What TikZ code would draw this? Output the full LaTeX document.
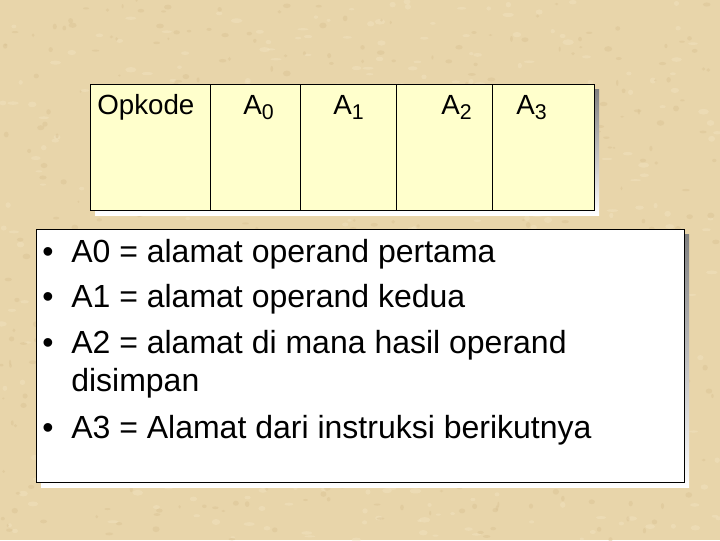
\documentclass[tikz,border=0pt]{standalone}
\usepackage{fontspec}
\setmainfont{Liberation Sans}
\definecolor{parchment}{HTML}{E8D5AA}
\definecolor{fleck}{HTML}{F2E4C2}
\definecolor{speck}{HTML}{D9C293}
\definecolor{memo}{HTML}{FFFFCC}
\definecolor{shade}{HTML}{A49C8A}
\newcommand{\sbs}[1]{\raisebox{-0.4ex}{\fontsize{16}{16}\selectfont #1}}
\begin{document}
\begin{tikzpicture}[x=0.75pt,y=-0.75pt,
  lbl/.style={anchor=base west,inner sep=0pt,font=\fontsize{20.8}{25}\selectfont},
  item/.style={anchor=base west,inner sep=0pt,font=\fontsize{24}{29}\selectfont},
  dot/.style={anchor=base,inner sep=0pt,font=\fontsize{24}{29}\selectfont}]
\fill[parchment] (0,0) rectangle (720,540);
\useasboundingbox (0,0) rectangle (720,540);
% parchment texture
\pgfmathsetseed{7}
\foreach \i in {1,...,500}{
  \pgfmathsetmacro{\px}{720*rnd}
  \pgfmathsetmacro{\py}{540*rnd}
  \fill[fleck,opacity=0.45] (\px,\py) ellipse ({2+4*rnd} and {1+2*rnd});
}
\foreach \i in {1,...,500}{
  \pgfmathsetmacro{\px}{720*rnd}
  \pgfmathsetmacro{\py}{540*rnd}
  \fill[speck,opacity=0.45] (\px,\py) ellipse ({1+3*rnd} and {1+2*rnd});
}

% instruction format
\fill[shade] (95,89) rectangle (599,215);
\draw[fill=memo] (90,84) rectangle (594,210);
\draw (210,84)--(210,210);
\draw (300,84)--(300,210);
\draw (396,84)--(396,210);
\draw (492,84)--(492,210);
\node[lbl] (opkode) at (97,114) {Opkode};
\node[lbl] (a0) at (243,114) {A\sbs{0}};
\node[lbl] (a1) at (333,114) {A\sbs{1}};
\node[lbl] (a2) at (441,114) {A\sbs{2}};
\node[lbl] (a3) at (516,114) {A\sbs{3}};

% keterangan
\fill[shade] (41,234) rectangle (689,487);
\draw[fill=white] (36,229) rectangle (684,482);
\node[dot] (d0) at (48,262) {\textbullet};
\node[item] (t0) at (71,262) {A0 = alamat operand pertama};
\node[dot] (d1) at (48,307) {\textbullet};
\node[item] (t1) at (71,307) {A1 = alamat operand kedua};
\node[dot] (d2) at (48,353) {\textbullet};
\node[item] (t2) at (71,353) {A2 = alamat di mana hasil operand};
\node[item] (t2b) at (71,391) {disimpan};
\node[dot] (d3) at (48,438) {\textbullet};
\node[item] (t3) at (71,438) {A3 = Alamat dari instruksi berikutnya};
\end{tikzpicture}
\end{document}
